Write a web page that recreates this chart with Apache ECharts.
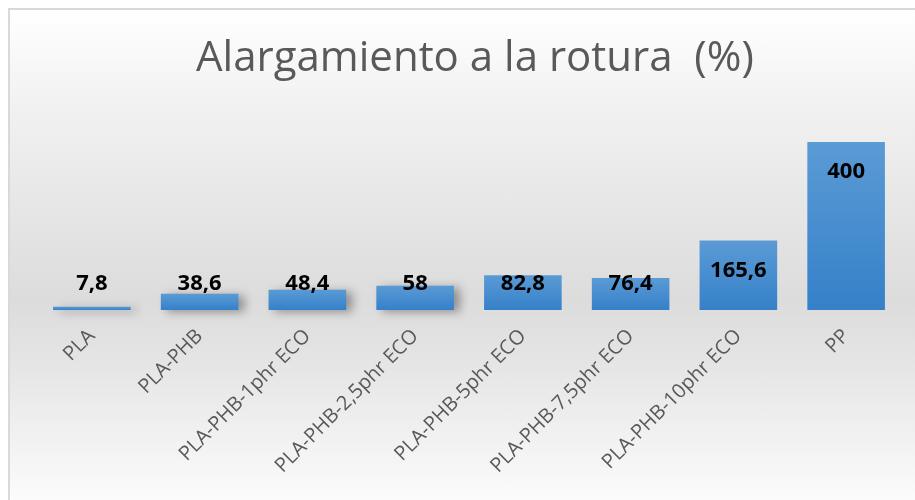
<!DOCTYPE html>
<html>
<head>
<meta charset="utf-8">
<script src="https://cdn.jsdelivr.net/npm/echarts@6/dist/echarts.min.js"></script>
<style>
html,body{margin:0;padding:0;background:#fff;}
#bg{position:absolute;left:8px;top:8px;width:920px;height:500px;border-left:2px solid #d9d9d9;border-top:2px solid #d9d9d9;
 background:linear-gradient(to bottom,#ffffff 0%,#f2f2f2 18%,#dcdcdc 58%,#e6e6e6 72%,#fdfdfd 100%);}
#main{position:absolute;left:0;top:0;width:915px;height:500px;}
</style>
</head>
<body>
<div id="bg"></div>
<div id="main"></div>
<script>
// categorias y valores (%)
var categorias = ['PLA', 'PLA-PHB', 'PLA-PHB-1phr ECO', 'PLA-PHB-2,5phr ECO', 'PLA-PHB-5phr ECO', 'PLA-PHB-7,5phr ECO', 'PLA-PHB-10phr ECO', 'PP'];
var alargamiento = [7.8, 38.6, 48.4, 58, 82.8, 76.4, 165.6, 400];

var myChart = echarts.init(document.getElementById('main'));
var option = {
	title : {
		text : 'Alargamiento a la rotura  (%)',
		left : 191,
		top : 33,
		textStyle : {
			fontFamily : 'Open Sans',
			fontWeight : 'normal',
			fontSize : 42,
			color : '#595959'
		}
	},
	grid : {
		left : 38,
		right : 15,
		top : 121,
		bottom : 190
	},
	xAxis : {
		type : 'category',
		data : categorias,
		axisLine : { show : false },
		axisTick : { show : false },
		axisLabel : {
			rotate : 45,
			interval : 0,
			margin : 23,
			fontFamily : 'Open Sans',
			fontSize : 20,
			color : '#595959'
		}
	},
	yAxis : {
		type : 'value',
		min : 0,
		max : 450,
		show : false,
		splitLine : { show : false }
	},
	series : [ {
		type : 'bar',
		data : alargamiento,
		barCategoryGap : '28%',
		itemStyle : {
			color : new echarts.graphic.LinearGradient(0, 0, 0, 1, [
				{ offset : 0, color : '#5b9bd5' },
				{ offset : 1, color : '#3580c9' }
			]),
			shadowColor : 'rgba(0,0,0,0.35)',
			shadowBlur : 10,
			shadowOffsetX : 6,
			shadowOffsetY : 2
		},
		label : {
			show : true,
			position : 'inside',
			fontFamily : 'Open Sans',
			fontWeight : 'bold',
			fontSize : 22,
			color : '#000',
			formatter : function(p) {
				return String(p.value).replace('.', ',');
			}
		},
		labelLayout : function(p) {
			var r = p.rect;
			return {
				x : r.x + r.width / 2,
				y : Math.min(r.y + 30, r.y + r.height - 26),
				align : 'center',
				verticalAlign : 'middle'
			};
		}
	} ]
};
myChart.setOption(option);
</script>
</body>
</html>
